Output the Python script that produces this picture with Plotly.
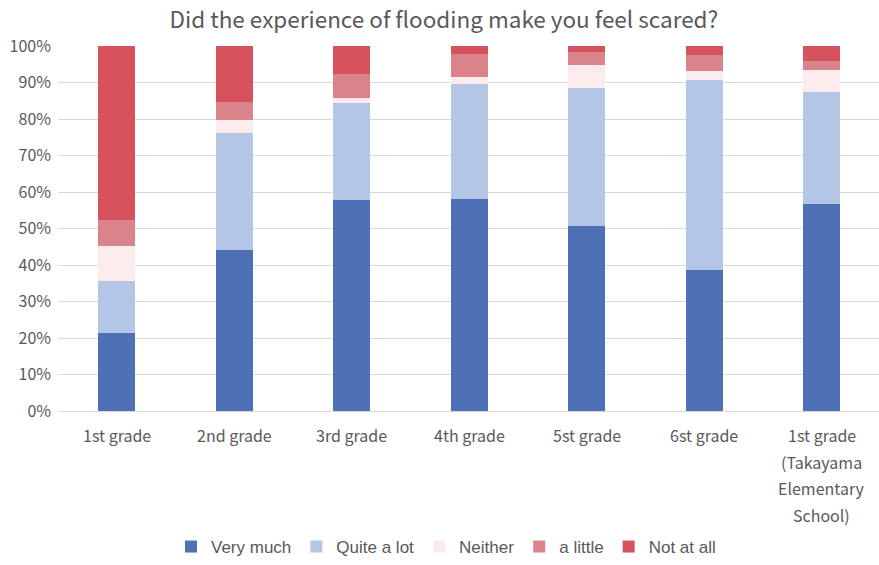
import plotly.graph_objects as go

categories = ["1st grade", "2nd grade", "3rd grade", "4th grade", "5st grade", "6st grade",
              "1st grade (Takayama Elementary School)"]
label_lines = [["1st grade"], ["2nd grade"], ["3rd grade"], ["4th grade"], ["5st grade"], ["6st grade"],
               ["1st grade", "(Takayama", "Elementary", "School)"]]

very_much = [21.3, 44.1, 57.7, 58.1, 50.7, 38.7, 56.7]
quite_a_lot = [14.2, 32.0, 26.7, 31.4, 37.7, 51.9, 30.7]
neither = [9.6, 3.6, 1.4, 2.1, 6.5, 2.5, 5.9]
a_little = [7.2, 4.9, 6.4, 6.1, 3.4, 4.5, 2.6]
not_at_all = [47.7, 15.4, 7.8, 2.3, 1.7, 2.4, 4.1]

series = [
    ("Very much", very_much, "#4E70B4"),
    ("Quite a lot", quite_a_lot, "#B4C6E5"),
    ("Neither", neither, "#FCEBEC"),
    ("a little", a_little, "#DA838B"),
    ("Not at all", not_at_all, "#D6535D"),
]

FONT = "Noto Sans CJK JP"
GREY = "#595959"

fig = go.Figure()
for name, vals, color in series:
    fig.add_trace(go.Bar(x=categories, y=vals, name=name, marker_color=color,
                         marker_line_width=0))

annotations = []
for cat, lines in zip(categories, label_lines):
    for i, line in enumerate(lines):
        annotations.append(dict(x=cat, xref="x", y=0, yref="paper", text=line,
                                showarrow=False, yanchor="middle", xanchor="center",
                                yshift=-24 - 26.7 * i,
                                font=dict(family=FONT, size=16, color=GREY)))

fig.update_layout(
    width=879, height=565,
    margin=dict(l=58, r=0, t=46, b=152),
    paper_bgcolor="white", plot_bgcolor="white",
    barmode="stack", bargap=0.685,
    title=dict(text="Did the experience of flooding make you feel scared?",
               x=0.505, xanchor="center", y=0.965, yanchor="middle",
               font=dict(family=FONT, size=22.5, color=GREY)),
    xaxis=dict(range=[-0.5, 6.487], showticklabels=False, showgrid=False,
               showline=True, linecolor="#D9D9D9", linewidth=1, ticks=""),
    yaxis=dict(range=[0, 100], dtick=10, ticksuffix="%", showgrid=True,
               gridcolor="#D9D9D9", gridwidth=1, zeroline=False, ticks="",
               ticklabelstandoff=6,
               tickfont=dict(family=FONT, size=16, color=GREY)),
    legend=dict(orientation="h", x=0.4726, xanchor="center", y=-0.374, yanchor="middle",
                font=dict(family="Liberation Sans", size=17, color=GREY), itemwidth=30,
                traceorder="normal"),
    annotations=annotations,
    font=dict(family=FONT),
)

fig.write_html("out.html")
